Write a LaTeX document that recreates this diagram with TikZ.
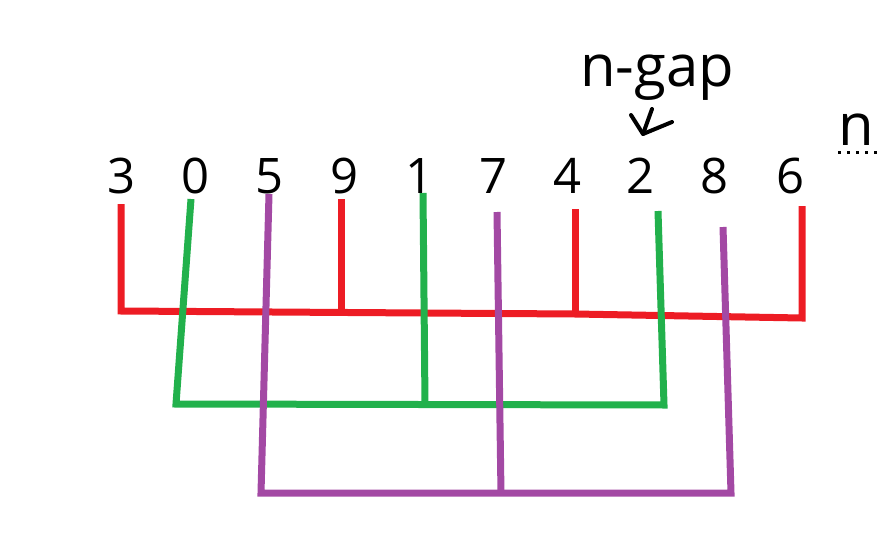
\documentclass[tikz,border=0pt]{standalone}
\usepackage{fontspec}
\setmainfont{Open Sans}
\usetikzlibrary{positioning}
\definecolor{pred}{RGB}{237,28,36}
\definecolor{pgreen}{RGB}{34,177,76}
\definecolor{ppurple}{RGB}{163,73,164}
\tikzset{
  digit/.style={font=\fontsize{49}{52}\selectfont, inner sep=0pt, anchor=base},
  note/.style={font=\fontsize{58}{60}\selectfont, inner sep=0pt, anchor=base},
  redlink/.style={draw=pred, line width=7pt, line join=miter},
  greenlink/.style={draw=pgreen, line width=7pt, line join=miter},
  purplelink/.style={draw=ppurple, line width=7pt, line join=miter},
  pointer/.style={draw=black, line width=4pt, line join=round, line cap=round}
}

\begin{document}
\begin{tikzpicture}[x=1pt,y=-1pt]
    \useasboundingbox (0,0) rectangle (894,559);
    % the sequence
    \foreach \v/\x in {3/122,0/196,5/270,9/345,1/420,7/494,4/568,2/641,8/714,6/790}
      \node[digit] (d\v) at (\x,193) {\v};
    \node[note] (gap) at (657,87) {n-gap};
    \node[note] (nlab) at (856,146) {n};
    \draw[line width=3pt, dash pattern=on 3pt off 6pt, black]
      ([yshift=-7pt]nlab.base west) -- ([yshift=-7pt,xshift=4pt]nlab.base east);

    % pointer to the gap
    \coordinate (ashaft) at (652,109);
    \coordinate (atip) at (643,134);
    \coordinate (aleft) at (631,115);
    \coordinate (aright) at (672,122);
    \draw[pointer] (ashaft) -- (atip);
    \draw[pointer] (aleft) -- (atip) -- (aright);

    % red group
    \coordinate (r3top) at (121,204);  \coordinate (r3bot) at (121,311);
    \coordinate (r9top) at (341,199);  \coordinate (r9bot) at (341,311);
    \coordinate (r4top) at (575,209);  \coordinate (r4bot) at (575,314);
    \coordinate (r6top) at (802,206);  \coordinate (r6bot) at (802,318);
    \draw[redlink] (r3top) -- (r3bot) -- (r4bot) -- (r6bot) -- (r6top);
    \draw[redlink] (r9top) -- (r9bot);
    \draw[redlink] (r4top) -- (r4bot);

    % green group
    \coordinate (g0top) at (191,199);  \coordinate (g0bot) at (176,404);
    \coordinate (g1top) at (423,193);  \coordinate (g1bot) at (425,404);
    \coordinate (g2top) at (658,211);  \coordinate (g2bot) at (664,405);
    \draw[greenlink] (g0top) -- (g0bot) -- (g2bot) -- (g2top);
    \draw[greenlink] (g1top) -- (g1bot);

    % purple group
    \coordinate (p5top) at (269,194);  \coordinate (p5bot) at (261,493);
    \coordinate (p7top) at (497,212);  \coordinate (p7bot) at (501,494);
    \coordinate (p8top) at (723,227);  \coordinate (p8bot) at (731,493);
    \draw[purplelink] (p5top) -- (p5bot) -- (p8bot) -- (p8top);
    \draw[purplelink] (p7top) -- (p7bot);
\end{tikzpicture}
\end{document}
